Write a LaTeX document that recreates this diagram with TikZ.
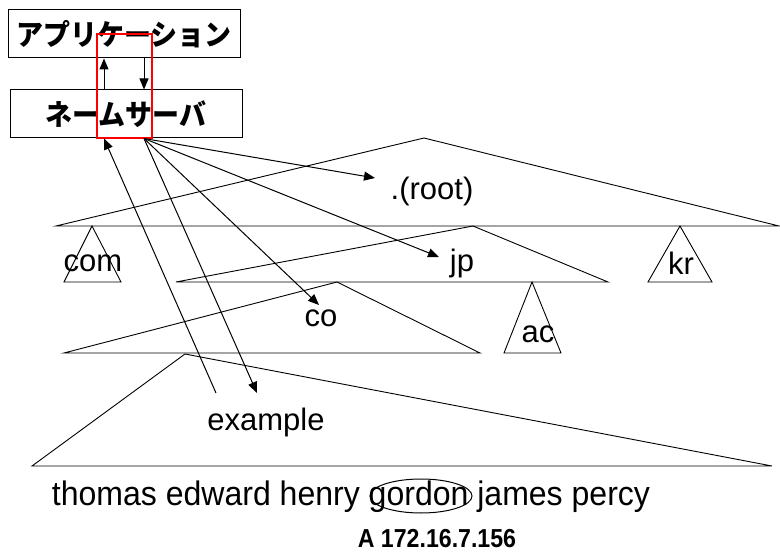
\documentclass[tikz,border=0pt]{standalone}
\usepackage{graphicx}
\usepackage{fontspec}
\setmainfont{Liberation Sans}
\newfontfamily\jafont{Noto Sans CJK JP}[BoldFont={Noto Sans CJK JP Black}]
\newcommand\narrow[2]{\scalebox{#1}[1]{#2}}
\usetikzlibrary{arrows.meta,positioning,shapes.geometric}

\begin{document}
\begin{tikzpicture}[x=1pt,y=-1pt,
          box/.style={draw,line width=1pt,minimum width=232pt,minimum height=48pt,
                      inner sep=0pt,font=\jafont\bfseries\fontsize{29}{29}\selectfont},
          lbl/.style={font=\fontsize{31}{31}\selectfont,inner sep=0pt},
          tri/.style={line width=0.9pt},
          arr/.style={line width=1pt,-{Triangle[length=11pt,width=9pt]}}]
        \useasboundingbox (0,0) rectangle (780,559);
        % boxes
        \node[box] (app) at (124,34)  {\narrow{0.93}{アプリケーション}};
        \node[box] (ns)  at (126,114) {\narrow{0.93}{ネームサーバ}};
        \draw[red,line width=1.5pt] (97,34) rectangle (152,138);
        \coordinate (upx) at (104,0);
        \coordinate (dnx) at (144,0);
        \draw[arr] (ns.north -| upx) -- (app.south -| upx);
        \draw[arr] (app.south -| dnx) -- (ns.north -| dnx);
        % tree
        \draw[tri] (56,226) -- (424,138) -- (779,226) -- cycle;
        \draw[tri] (64,282) -- (92,226) -- (121,282) -- cycle;
        \draw[tri] (648,282) -- (680,226) -- (712,282) -- cycle;
        \draw[tri] (176,282) -- (473,226) -- (608,282) -- cycle;
        \draw[tri] (504,353) -- (532,282) -- (561,353) -- cycle;
        \draw[tri] (64,353) -- (337,282) -- (480,353) -- cycle;
        \draw[tri] (32,466) -- (185,354) -- (772,466) -- cycle;
        % labels
        \node[lbl] (root) at (432,191) {.(root)};
        \node[lbl] (com)  at (93,263)  {com};
        \node[lbl] (jp)   at (462,263) {jp};
        \node[lbl] (kr)   at (681,263) {kr};
        \node[lbl] (co)   at (321,318) {co};
        \node[lbl] (ac)   at (538,334) {ac};
        \node[lbl] (ex)   at (266,422) {example};
        \node[lbl,font=\fontsize{34}{34}\selectfont] (names) at (351,497)
          {\narrow{0.942}{thomas edward henry gordon james percy}};
        \node[draw,ellipse,line width=1pt,minimum width=102pt,minimum height=34pt] (gordon) at (421,496) {};
        \node[font=\bfseries\fontsize{26}{26}\selectfont,inner sep=0pt] (rr) at (437,539)
          {\narrow{0.89}{A 172.16.7.156}};
        % queries
        \coordinate (nsout) at (ns.south -| dnx);
        \coordinate (toroot) at (375,178);
        \coordinate (tojp) at (439,257);
        \coordinate (toco) at (319,305);
        \coordinate (toex) at (257,393);
        \coordinate (fromex) at (216,393);
        \draw[arr] (nsout) -- (toroot);
        \draw[arr] (nsout) -- (tojp);
        \draw[arr] (nsout) -- (toco);
        \draw[arr] (nsout) -- (toex);
        \draw[arr] (fromex) -- (ns.south -| upx);
      \end{tikzpicture}
\end{document}
